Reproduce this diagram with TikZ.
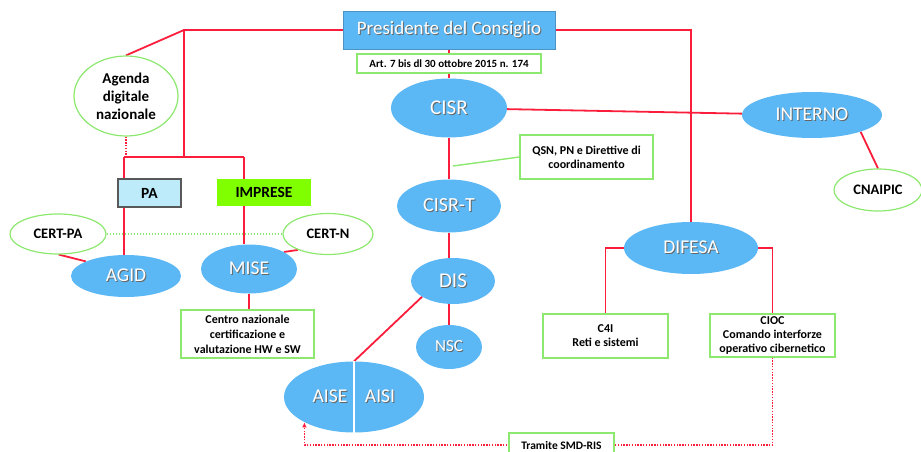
\documentclass[tikz,border=0pt]{standalone}
\usepackage{fontspec}
\setmainfont{Carlito}
\usetikzlibrary{shapes.geometric,arrows.meta,backgrounds}
\definecolor{lnred}{RGB}{250,30,60}
\definecolor{ellblue}{RGB}{92,184,245}
\definecolor{grn}{RGB}{140,232,110}
\definecolor{pablue}{RGB}{190,235,250}
\definecolor{impgreen}{RGB}{128,255,0}
\newcommand\shtext[1]{\makebox[0pt][l]{\hspace{1pt}\raisebox{-1pt}{\textcolor{black!60}{#1}}}\textcolor{white}{#1}}
\begin{document}
\begin{tikzpicture}[x=1pt,y=-1pt,
  blueell/.style={ellipse, fill=ellblue, draw=none, inner sep=0pt, font=\fontsize{19.5}{19.5}\selectfont},
  greenell/.style={ellipse, draw=grn, line width=1.2pt, fill=white, inner sep=0pt, align=center, font=\bfseries\fontsize{14.5}{17.5}\selectfont},
  greenbox/.style={rectangle, draw=grn, line width=1.2pt, fill=white, inner sep=0pt, align=center, font=\bfseries\fontsize{12}{14}\selectfont},
  presbox/.style={rectangle, fill=ellblue, draw=ellblue!80!black, line width=0.6pt, inner sep=0pt, font=\fontsize{19}{19}\selectfont},
  redline/.style={draw=lnred, line width=1.8pt},
  reddot/.style={draw=lnred, line width=1.3pt, dash pattern=on 1.4pt off 1.4pt},
  greendot/.style={draw=grn, line width=1.5pt, dash pattern=on 1.5pt off 1.5pt},
  greenline/.style={draw=grn, line width=1.4pt}
]
\useasboundingbox (0,0) rectangle (921,452);
\clip (0,0) rectangle (921,452);

% top
\node[presbox, minimum width=212pt, minimum height=38pt] (pres) at (449,30) {\shtext{Presidente del Consiglio}};
\node[greenbox, minimum width=184pt, minimum height=19pt, font=\bfseries\fontsize{11}{12}\selectfont] (art) at (449,63.5) {Art. 7 bis dl 30 ottobre 2015 n. 174};

% centre column
\node[blueell, minimum width=116pt, minimum height=59pt, font=\fontsize{21}{21}\selectfont] (cisr) at (449,108) {\shtext{CISR}};
\node[blueell, minimum width=104pt, minimum height=53pt, font=\fontsize{20}{20}\selectfont] (cisrt) at (449,206) {\shtext{CISR-T}};
\node[greenbox, minimum width=133pt, minimum height=44pt] (qsn) at (586.5,157) {QSN, PN e Direttive di\\coordinamento};
\coordinate (qsnend) at (453,166);
\node[blueell, minimum width=84pt, minimum height=46pt, font=\fontsize{21}{21}\selectfont] (dis) at (453,281) {\shtext{DIS}};
\node[blueell, minimum width=66pt, minimum height=44pt, font=\fontsize{17}{17}\selectfont] (nsc) at (449,347) {\shtext{NSC}};
\node[blueell, minimum width=140pt, minimum height=71pt] (aise) at (354,397) {};
\draw[white, line width=1.5pt] (aise.north) -- (aise.south);
\node[font=\fontsize{19.5}{19.5}\selectfont, inner sep=0pt] (aisetxt) at (330,397) {\shtext{AISE}};
\node[font=\fontsize{19.5}{19.5}\selectfont, inner sep=0pt] (aisitxt) at (380,397) {\shtext{AISI}};

% right
\node[blueell, minimum width=140pt, minimum height=46pt] (interno) at (812,115) {\shtext{INTERNO}};
\node[greenell, minimum width=88pt, minimum height=42pt] (cnaipic) at (878,190) {CNAIPIC};
\node[blueell, minimum width=134pt, minimum height=52pt] (difesa) at (691,248) {\shtext{DIFESA}};
\node[greenbox, minimum width=125pt, minimum height=44pt] (c4i) at (605.5,336) {C4I\\Reti e sistemi};
\node[greenbox, minimum width=125pt, minimum height=43pt] (cioc) at (772.5,335.5) {CIOC\\Comando interforze\\operativo cibernetico};
\node[greenbox, minimum width=105pt, minimum height=26pt, font=\bfseries\fontsize{11.5}{13}\selectfont] (tramite) at (561.5,446) {Tramite SMD-RIS};
\coordinate (bot) at (773,445);

% left
\node[greenell, minimum width=104pt, minimum height=80pt, font=\bfseries\fontsize{15}{18}\selectfont] (agenda) at (126,96) {Agenda\\digitale\\nazionale};
\node[rectangle, fill=pablue, draw=black!65, line width=1.2pt, minimum width=63pt, minimum height=28pt, font=\bfseries\fontsize{15.5}{15.5}\selectfont] (pa) at (149.5,193) {PA};
\node[rectangle, fill=impgreen, draw=none, minimum width=94pt, minimum height=27pt, font=\bfseries\fontsize{15.5}{15.5}\selectfont] (imprese) at (264,192.5) {IMPRESE};
\node[blueell, minimum width=110pt, minimum height=42pt] (agid) at (126,276) {\shtext{AGID}};
\node[greenell, minimum width=96pt, minimum height=40pt] (certpa) at (58,234) {CERT-PA};
\node[greenell, minimum width=90pt, minimum height=41pt] (certn) at (328,234) {CERT-N};
\node[blueell, minimum width=96pt, minimum height=49pt] (mise) at (249,269) {\shtext{MISE}};
\node[greenbox, minimum width=133pt, minimum height=48pt, font=\bfseries\fontsize{12}{15}\selectfont] (centro) at (247.5,334) {Centro nazionale\\certificazione e\\valutazione HW e SW};
\coordinate (lt) at (184,30);
\coordinate (lj) at (184,157);
\coordinate (lpa) at (124,157);
\coordinate (lim) at (244,157);

\begin{pgfonlayer}{background}
% presidente links
\draw[redline] (pres) -- (cisr);
\draw[redline] (pres.east) -| (difesa.north);
\draw[redline] (pres.west) -- (lt) -- (lj);
\draw[redline] (lt) -- (agenda.north);
\draw[reddot] (agenda.south) -- (agenda.south |- lj);
\draw[redline] (lpa) -- (lim);
\draw[redline] (lpa) -- (lpa |- pa.north);
\draw[redline] (lim) -- (lim |- imprese.north);
\draw[redline] (lpa |- pa.south) -- (lpa |- agid.north);
\draw[redline] (lim |- imprese.south) -- (lim |- mise.north);
\draw[redline] (mise.south) -- (mise.south |- centro.north);
\draw[redline] (certpa.-88) -- (agid.160);
\draw[redline] (mise.26) -- (certn.208);
\draw[greendot] (certpa.east) -- (certn.west);
% centre
\draw[redline] (cisr) -- (interno);
\draw[redline] (cisr.south) -- (cisrt.north);
\draw[greenline] (qsnend) -- (qsn.west);
\draw[redline] (cisrt.south) -- (cisrt.south |- dis.north);
\draw[redline] (nsc.north |- dis.south) -- (nsc.north);
\draw[redline] (dis.207) -- (aise.north);
% right
\draw[redline] (interno.-19) -- (cnaipic.north);
\draw[redline] (difesa.west) -| (c4i.north);
\draw[redline] (difesa.east) -| (cioc.north);
\draw[reddot, -{Latex[length=5pt,width=4.5pt]}] (cioc.south) |- (aise.207 |- bot) -- (aise.207);
\end{pgfonlayer}
\end{tikzpicture}
\end{document}
